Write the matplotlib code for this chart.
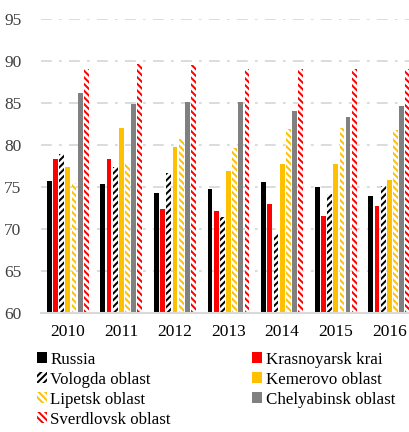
import matplotlib
matplotlib.use("Agg")
import matplotlib.pyplot as plt
import numpy as np
from matplotlib.patches import Patch

years = ["2010", "2011", "2012", "2013", "2014", "2015", "2016"]
russia = [75.7, 75.4, 74.3, 74.7, 75.6, 75.0, 73.9]
krasnoyarsk = [78.3, 78.3, 72.4, 72.1, 73.0, 71.6, 72.7]
vologda = [78.9, 77.4, 76.7, 71.4, 69.4, 74.2, 75.1]
kemerovo = [77.4, 82.0, 79.8, 76.9, 77.7, 77.7, 75.8]
lipetsk = [75.5, 77.7, 80.7, 79.6, 81.9, 82.0, 81.8]
chelyabinsk = [86.2, 84.9, 85.1, 85.1, 84.0, 83.3, 84.6]
sverdlovsk = [89.0, 89.6, 89.5, 89.1, 89.0, 89.1, 89.1]

series = [
    ("Russia", russia, dict(facecolor="#000000", edgecolor="#000000")),
    ("Krasnoyarsk krai", krasnoyarsk, dict(facecolor="#FF0000", edgecolor="#FF0000")),
    ("Vologda oblast", vologda, dict(facecolor="white", edgecolor="#000000", hatch="/////")),
    ("Kemerovo oblast", kemerovo, dict(facecolor="#FFC000", edgecolor="#FFC000")),
    ("Lipetsk oblast", lipetsk, dict(facecolor="white", edgecolor="#FFC000", hatch="\\\\\\\\\\")),
    ("Chelyabinsk oblast", chelyabinsk, dict(facecolor="#808080", edgecolor="#808080")),
    ("Sverdlovsk oblast", sverdlovsk, dict(facecolor="white", edgecolor="#FF0000", hatch="\\\\\\\\\\")),
]

plt.rcParams["font.family"] = ["Liberation Serif", "DejaVu Serif"]
plt.rcParams["hatch.linewidth"] = 1.45

fig = plt.figure(figsize=(4.10, 4.32), dpi=100)
ax = fig.add_axes([0.10, 0.2755, 0.915, 0.6806])

x = np.arange(len(years))
pitch = 0.115
width = 0.09
handles = []
for i, (name, vals, style) in enumerate(series):
    off = (i - 3) * pitch
    ax.bar(x + off, np.array(vals) - 60, bottom=60, width=width, linewidth=0, zorder=3, **style)
    handles.append(Patch(label=name, linewidth=0, **style))

ax.set_xlim(-0.5, len(years) - 0.5)
ax.set_ylim(60, 95)
ax.set_yticks(np.arange(60, 96, 5))
ax.set_xticks(x)
ax.set_xticklabels(years)
ax.tick_params(axis="both", length=0, labelsize=12.5, colors="#000000")
ax.tick_params(axis="x", pad=8)
ax.tick_params(axis="y", pad=14)
for lab in ax.get_yticklabels():
    lab.set_color("#404040")
for s in ["left", "right", "top"]:
    ax.spines[s].set_visible(False)
ax.spines["bottom"].set_color("#D9D9D9")
ax.spines["bottom"].set_linewidth(1.5)
ax.spines["bottom"].set_zorder(4)
ax.yaxis.grid(True, color="#D9D9D9", linewidth=1.3, linestyle=(0, (6, 4, 1.5, 4)), zorder=0)
ax.set_axisbelow(True)

order = [0, 2, 4, 6, 1, 3, 5]
fig.legend([handles[i] for i in order], [handles[i].get_label() for i in order],
           loc="upper left", bbox_to_anchor=(0.09, 0.186), ncol=2, frameon=False,
           fontsize=12.2, handlelength=0.6, handleheight=0.6, handletextpad=0.2,
           columnspacing=4.8, labelspacing=0.24, borderaxespad=0, borderpad=0)

fig.savefig("out.png", dpi=100)
